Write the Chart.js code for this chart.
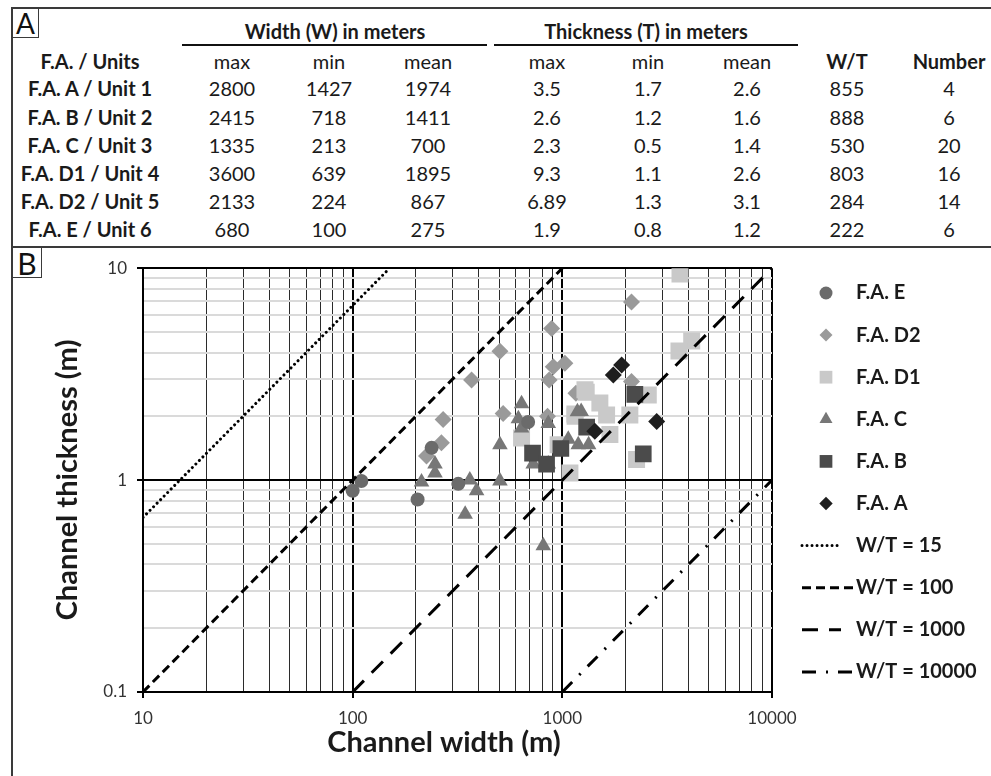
<!DOCTYPE html>
<html>
<head>
<meta charset="utf-8">
<title>Channel width vs thickness</title>
<script src="https://cdn.jsdelivr.net/npm/chart.js@4.4.1/dist/chart.umd.min.js"></script>
<style>
  html, body { margin: 0; padding: 0; background: #fff; }
  body { width: 991px; height: 776px; position: relative; overflow: hidden;
         font-family: Lato, "Open Sans", sans-serif; color: #1a1a1a; }
  #frame { position: absolute; left: 11px; top: 7px; width: 990px; height: 780px;
           border-left: 2px solid #3a3a3a; border-top: 2px solid #3a3a3a; }
  #divider { position: absolute; left: 11px; top: 246px; width: 990px; height: 2px; background: #3a3a3a; }
  .tag { position: absolute; border-right: 1.5px solid #3a3a3a; border-bottom: 1.5px solid #3a3a3a;
         text-align: center; font-weight: 400; color: #111; }
  .cell { position: absolute; transform: translate(-50%, -50%); white-space: nowrap; font-size: 20px; }
  .b { font-weight: 700; }
  .rule { position: absolute; height: 2px; background: #111; }
  #chartBox { position: absolute; left: 12px; top: 248px; width: 979px; height: 528px; }
</style>
</head>
<body>
<div id="frame"></div>
<div id="divider"></div>
<div class="tag" style="left:13px;top:9px;width:25px;height:28px;font-size:28px;line-height:28px;">A</div>
<div class="tag" style="left:13px;top:248px;width:28px;height:29px;font-size:30px;line-height:30px;">B</div>
<div id="table"></div>
<div id="chartBox"><canvas id="chart"></canvas></div>

<script>
// ------- table data (panel A) -------
const unitLabels = ['F.A. A / Unit 1', 'F.A. B / Unit 2', 'F.A. C / Unit 3',
                    'F.A. D1 / Unit 4', 'F.A. D2 / Unit 5', 'F.A. E / Unit 6'];
const widthMax   = [2800, 2415, 1335, 3600, 2133, 680];
const widthMin   = [1427, 718, 213, 639, 224, 100];
const widthMean  = [1974, 1411, 700, 1895, 867, 275];
const thickMax   = ['3.5', '2.6', '2.3', '9.3', '6.89', '1.9'];
const thickMin   = ['1.7', '1.2', '0.5', '1.1', '1.3', '0.8'];
const thickMean  = ['2.6', '1.6', '1.4', '2.6', '3.1', '1.2'];
const wtRatio    = [855, 888, 530, 803, 284, 222];
const unitCount  = [4, 6, 20, 16, 14, 6];
const subHeads   = ['F.A. / Units', 'max', 'min', 'mean', 'max', 'min', 'mean', 'W/T', 'Number'];

// ------- scatter data (panel B): width W (m), thickness T (m) -------
const eW  = [100, 110, 204, 238, 319, 687];
const eT  = [0.89, 0.99, 0.81, 1.42, 0.96, 1.88];
const d2W = [225, 265, 270, 369, 504, 522, 850, 865, 889, 905, 1028, 1161, 2138, 2138];
const d2T = [1.30, 1.50, 1.93, 2.97, 4.06, 2.06, 2.0, 2.97, 5.19, 3.43, 3.56, 2.57, 6.92, 2.92];
const d1W = [3640, 4140, 3600, 1282, 1510, 1626, 1148, 2570, 2099, 1686, 639, 1087, 2260, 955, 1150, 1300];
const d1T = [9.4, 4.53, 4.07, 2.67, 2.31, 2.03, 2.05, 2.52, 2.03, 1.64, 1.58, 1.08, 1.25, 1.47, 2.0, 2.6];
const cW  = [213, 247, 247, 362, 390, 344, 504, 504, 811, 726, 857, 1067, 1191, 1335, 639, 617, 639, 857, 1230, 1180];
const cT  = [0.98, 1.19, 1.08, 1.0, 0.89, 0.69, 1.47, 0.99, 0.49, 1.19, 1.19, 1.56, 1.47, 1.47, 2.29, 1.95, 1.76, 1.85, 2.11, 2.1];
const bW  = [721, 841, 984, 1306, 2218, 2432];
const bT  = [1.34, 1.19, 1.41, 1.78, 2.54, 1.33];
const aW  = [1429, 1750, 1918, 2818];
const aT  = [1.70, 3.13, 3.49, 1.89];

const wtLines = [15, 100, 1000, 10000];
const xMajor  = [10, 100, 1000, 10000];
const yMajor  = [0.1, 1, 10];

const FONT = 'Lato, "Open Sans", sans-serif';

// ------- build table -------
(function buildTable() {
  const root = document.getElementById('table');
  const colX = [90, 232, 329, 428, 547, 648, 747, 847, 949];
  const rowY = [88, 117, 145, 173, 201, 229];
  const add = (x, y, text, bold) => {
    const d = document.createElement('div');
    d.className = 'cell' + (bold ? ' b' : '');
    d.style.left = x + 'px'; d.style.top = y + 'px';
    d.textContent = text;
    root.appendChild(d);
  };
  const rule = (x1, x2, y) => {
    const d = document.createElement('div');
    d.className = 'rule';
    d.style.left = x1 + 'px'; d.style.top = y + 'px'; d.style.width = (x2 - x1) + 'px';
    root.appendChild(d);
  };
  add(335, 31, 'Width (W) in meters', true);
  add(646, 31, 'Thickness (T) in meters', true);
  rule(182, 487, 44);
  rule(494, 798, 44);
  subHeads.forEach((h, i) => add(colX[i], 61, h, i === 0 || i >= 7));
  const cols = [unitLabels, widthMax, widthMin, widthMean, thickMax, thickMin, thickMean, wtRatio, unitCount];
  rowY.forEach((y, r) => {
    cols.forEach((col, c) => add(colX[c], y, String(col[r]), c === 0));
  });
})();

// ------- chart -------
const pairs = (ws, ts) => ws.map((w, i) => ({ x: w, y: ts[i] }));

function logTicks(majors) {
  const out = [];
  majors.forEach((m, i) => {
    out.push({ value: m, major: true });
    if (i < majors.length - 1) {
      for (let k = 2; k <= 9; k++) out.push({ value: +(m * k).toPrecision(6), major: false });
    }
  });
  return out;
}

const series = [
  { label: 'F.A. E',  w: eW,  t: eT,  style: 'circle',   r: 7,    lr: 6.5, color: '#6b6b6b', order: 1 },
  { label: 'F.A. D2', w: d2W, t: d2T, style: 'rectRot',  r: 8.5,  lr: 6.5, color: '#9a9a9a', order: 6 },
  { label: 'F.A. D1', w: d1W, t: d1T, style: 'rect',     r: 12,   lr: 9,   color: '#c9c9c9', order: 5 },
  { label: 'F.A. C',  w: cW,  t: cT,  style: 'triangle', r: 9,    lr: 7.5, color: '#777777', order: 4 },
  { label: 'F.A. B',  w: bW,  t: bT,  style: 'rect',     r: 11.8, lr: 9,   color: '#4b4b4b', order: 3 },
  { label: 'F.A. A',  w: aW,  t: aT,  style: 'rectRot',  r: 8.5,  lr: 6.7, color: '#1e1e1e', order: 2 },
];

const lineStyles = {
  15:    { dash: [0.01, 5],   cap: 'round' },
  100:   { dash: [9, 5],      cap: 'butt' },
  1000:  { dash: [16, 11],    cap: 'butt' },
  10000: { dash: [14, 10, 2, 10], cap: 'butt' },
};

const datasets = series.map(s => ({
  label: s.label,
  data: pairs(s.w, s.t),
  pointStyle: s.style,
  pointRadius: s.r,
  pointHoverRadius: s.r,
  pointBackgroundColor: s.color,
  pointBorderWidth: 0,
  showLine: false,
  order: s.order,
}));

wtLines.forEach(ratio => {
  const w0 = Math.max(10, ratio * 0.1), w1 = Math.min(10000, ratio * 10);
  const st = lineStyles[ratio];
  datasets.push({
    label: 'W/T = ' + ratio,
    data: [{ x: w0, y: w0 / ratio }, { x: w1, y: w1 / ratio }],
    showLine: true,
    pointRadius: 0,
    borderColor: '#000',
    borderWidth: 3,
    borderDash: st.dash,
    borderCapStyle: st.cap,
    fill: false,
    order: 0,
  });
});

// legend + axis titles drawn on the canvas
const overlay = {
  id: 'overlay',
  afterDraw(chart) {
    const ctx = chart.ctx;
    const lx = 814, tx = 844, y0 = 45, step = 42.1;
    ctx.save();
    ctx.font = `700 20px ${FONT}`;
    ctx.textBaseline = 'middle';
    ctx.fillStyle = '#1a1a1a';
    series.forEach((s, i) => {
      const y = y0 + i * step;
      ctx.fillStyle = s.color;
      Chart.helpers.drawPoint(ctx, { pointStyle: s.style, radius: s.lr, rotation: 0, borderWidth: 0 }, lx, y);
      ctx.fillStyle = '#1a1a1a';
      ctx.fillText(s.label, tx, y);
    });
    const sampleEnd = { 15: 830, 100: 842, 1000: 829, 10000: 841 };
    wtLines.forEach((ratio, i) => {
      const y = y0 + (series.length + i) * step;
      const st = lineStyles[ratio];
      ctx.beginPath();
      ctx.setLineDash(st.dash);
      ctx.lineCap = st.cap;
      ctx.lineWidth = 3;
      ctx.strokeStyle = '#000';
      ctx.moveTo(790, y);
      ctx.lineTo(sampleEnd[ratio], y);
      ctx.stroke();
      ctx.setLineDash([]);
      ctx.fillStyle = '#1a1a1a';
      ctx.fillText('W/T = ' + ratio, tx, y);
    });
    // axis titles
    ctx.font = `700 29px ${FONT}`;
    ctx.textAlign = 'center';
    ctx.fillText('Channel width (m)', 432, 495);
    ctx.translate(56, 232);
    ctx.rotate(-Math.PI / 2);
    ctx.fillText('Channel thickness (m)', 0, 0);
    ctx.restore();
  }
};

const isMajor = c => !!(c.tick && c.tick.major);

new Chart(document.getElementById('chart'), {
  type: 'scatter',
  data: { datasets },
  options: {
    responsive: true,
    maintainAspectRatio: false,
    devicePixelRatio: 1,
    animation: false,
    events: [],
    layout: { padding: { left: 0, top: 18, right: 219, bottom: 0 } },
    plugins: { legend: { display: false }, tooltip: { enabled: false } },
    scales: {
      x: {
        type: 'logarithmic', min: 10, max: 10000,
        afterBuildTicks: s => { s.ticks = logTicks(xMajor); },
        afterFit: s => { s.height = 84; },
        ticks: { autoSkip: false, maxRotation: 0, padding: 10, color: '#333',
                 font: { size: 17, family: FONT },
                 callback: v => xMajor.includes(v) ? String(v) : '' },
        grid: { color: c => isMajor(c) ? '#000' : '#2b2b2b',
                lineWidth: c => isMajor(c) ? 2 : 1,
                tickLength: 6, tickWidth: 2,
                tickColor: c => isMajor(c) ? '#000' : 'rgba(0,0,0,0)' },
        border: { display: true, color: '#000', width: 2 },
      },
      y: {
        type: 'logarithmic', min: 0.1, max: 10,
        afterBuildTicks: s => { s.ticks = logTicks(yMajor); },
        afterFit: s => { s.width = 131; },
        ticks: { autoSkip: false, padding: 10, color: '#333',
                 font: { size: 17, family: FONT },
                 callback: v => yMajor.includes(v) ? String(v) : '' },
        grid: { color: c => isMajor(c) ? '#000' : '#dadada',
                lineWidth: 2,
                tickLength: 6, tickWidth: 2,
                tickColor: c => isMajor(c) ? '#000' : 'rgba(0,0,0,0)' },
        border: { display: true, color: '#000', width: 2 },
      },
    },
  },
  plugins: [overlay],
});
</script>
</body>
</html>
